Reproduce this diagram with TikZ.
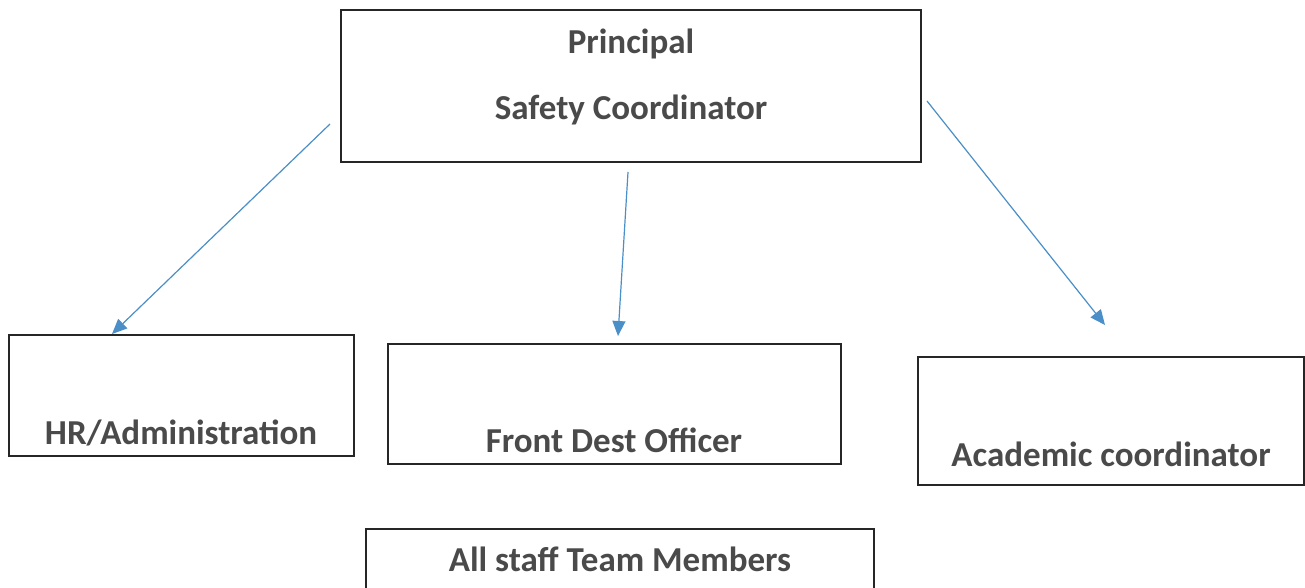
\documentclass[tikz,border=0pt]{standalone}
\usepackage{fontspec}
\setmainfont{Carlito}
\usetikzlibrary{arrows.meta}
\definecolor{txtgray}{HTML}{4A4A4A}
\definecolor{arrblue}{HTML}{4A8FC8}
\begin{document}
\begin{tikzpicture}[x=1pt,y=-1pt,
  box/.style={draw=black!85, line width=1.5pt, rectangle, inner sep=0pt},
  lbl/.style={anchor=base, text=txtgray, font=\fontsize{35}{38}\selectfont\bfseries, inner sep=0pt},
  conn/.style={draw=arrblue, line width=1.2pt, -{Triangle[length=15pt,width=13pt]}}]
\useasboundingbox (0,0) rectangle (1305,587);
\clip (0,0) rectangle (1305,587);
\fill[white] (0,0) rectangle (1305,587);
% boxes
\node[box, minimum width=580pt, minimum height=152pt] (top) at (631,86) {};
\node[box, minimum width=345pt, minimum height=121pt] (hr) at (181.5,395.5) {};
\node[box, minimum width=453pt, minimum height=120pt] (front) at (614.5,404) {};
\node[box, minimum width=386pt, minimum height=128pt] (acad) at (1111,421) {};
\node[box, minimum width=508pt, minimum height=120pt] (all) at (620,589) {};
% texts
\node[lbl] (tp1) at (631,53) {Principal};
\node[lbl] (tp2) at (631,119) {Safety Coordinator};
\node[lbl] (thr) at (181,444) {HR/Administration};
\node[lbl] (tfr) at (614,452) {Front Dest Officer};
\node[lbl] (tac) at (1111,466) {Academic coordinator};
\node[lbl] (tall) at (620,571) {All staff Team Members};
% connector ends
\coordinate (s1) at (330,124);
\coordinate (e1) at (112,334);
\coordinate (s2) at (628,172);
\coordinate (e2) at (618,336);
\coordinate (s3) at (927,101);
\coordinate (e3) at (1105,325);
\draw[conn] (s1) -- (e1);
\draw[conn] (s2) -- (e2);
\draw[conn] (s3) -- (e3);
\end{tikzpicture}
\end{document}
